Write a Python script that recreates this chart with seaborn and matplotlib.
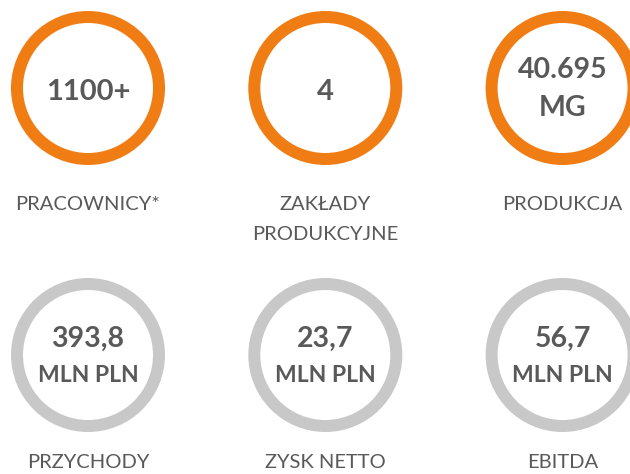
import matplotlib
matplotlib.use("Agg")
import matplotlib.pyplot as plt
import seaborn as sns
import pandas as pd

# ---- data ----
values_top = ["1100+", "4", "40.695\nMG"]
labels_top = ["PRACOWNICY*", "ZAKŁADY\nPRODUKCYJNE", "PRODUKCJA"]
values_bottom = ["393,8\nMLN PLN", "23,7\nMLN PLN", "56,7\nMLN PLN"]
labels_bottom = ["PRZYCHODY", "ZYSK NETTO", "EBITDA"]

sns.set_theme(style="white")
plt.rcParams['font.family'] = ['Lato', 'DejaVu Sans']

ORANGE = "#F07D14"
GRAY = "#C8C8C8"
TEXT = "#595959"

rows = []
for i, (v, l) in enumerate(zip(values_top, labels_top)):
    rows.append(dict(col=i, row=0, value=v, label=l, group="top"))
for i, (v, l) in enumerate(zip(values_bottom, labels_bottom)):
    rows.append(dict(col=i, row=1, value=v, label=l, group="bottom"))
df = pd.DataFrame(rows)
df["x"] = 88 + df["col"] * 237.3
df["y"] = 88 + df["row"] * 267

fig = plt.figure(figsize=(6.30, 4.74), dpi=100)
ax = fig.add_axes([0, 0, 1, 1])
ax.set_xlim(0, 630)
ax.set_ylim(474, 0)
ax.axis("off")

# ring: center-line radius ~71px -> diameter 142px = 102.2pt
s = (142 * 0.72) ** 2
lw = 12 * 0.72
for grp, color in [("top", ORANGE), ("bottom", GRAY)]:
    sub = df[df["group"] == grp]
    sns.scatterplot(data=sub, x="x", y="y", ax=ax, s=s, marker="o",
                    facecolor="none", edgecolor=color, linewidth=lw,
                    legend=False, clip_on=False)

for _, r in df.iterrows():
    parts = r["value"].split("\n")
    if len(parts) == 1:
        ax.text(r["x"], r["y"] + 4, parts[0], ha="center", va="center",
                fontsize=21, fontweight="bold", color=TEXT)
    else:
        if r["row"] == 0:
            ax.text(r["x"], r["y"] - 18, parts[0], ha="center", va="center",
                    fontsize=20.5, fontweight="bold", color=TEXT)
            ax.text(r["x"], r["y"] + 20, parts[1], ha="center", va="center",
                    fontsize=20.5, fontweight="bold", color=TEXT)
        else:
            ax.text(r["x"], r["y"] - 16, parts[0], ha="center", va="center",
                    fontsize=20.5, fontweight="bold", color=TEXT)
            ax.text(r["x"], r["y"] + 20, parts[1], ha="center", va="center",
                    fontsize=16.5, fontweight="bold", color=TEXT)
    lines = r["label"].split("\n")
    off = 116 if r["row"] == 0 else 108
    for k, ln in enumerate(lines):
        ax.text(r["x"], r["y"] + off + k * 30, ln, ha="center", va="center",
                fontsize=14.5, color=TEXT)

fig.savefig("out.png", dpi=100)
